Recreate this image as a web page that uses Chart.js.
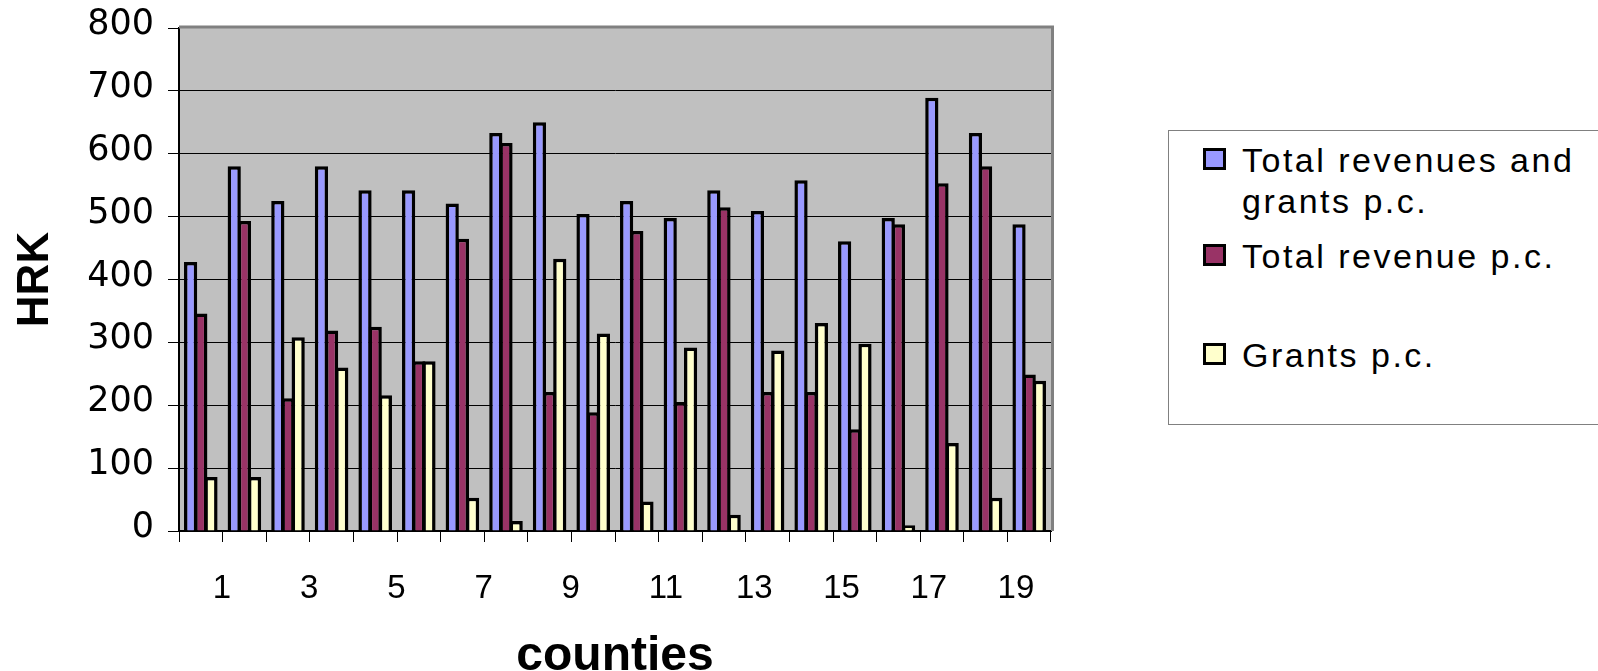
<!DOCTYPE html>
<html>
<head>
<meta charset="utf-8">
<script src="https://cdn.jsdelivr.net/npm/chart.js@4.4.1/dist/chart.umd.min.js"></script>
<style>
  html, body { margin: 0; padding: 0; background: #fff; overflow: hidden; width: 1598px; height: 671px; }
  #wrap { position: relative; width: 1598px; height: 671px; }
  #chart { position: absolute; left: 0; top: 0; }
  #legend {
    position: absolute; left: 1168px; top: 130px; width: 470px; height: 295px;
    box-sizing: border-box; border: 1px solid #808080; background: #fff;
    font-family: "Liberation Sans", Arial, sans-serif; font-size: 34px; line-height: 41px;
    letter-spacing: 2.5px; color: #000;
  }
  #legend .item { position: relative; padding-left: 73px; width: 345px; }
  #legend .swatch {
    position: absolute; left: 34px; top: 8px; width: 23px; height: 22px;
    box-sizing: border-box; border: 3px solid #000;
  }
</style>
</head>
<body>
<div id="wrap">
  <canvas id="chart" width="1598" height="671"></canvas>
  <div id="legend"></div>
</div>
<script>
// Counties 1..20
const categories = ['1','2','3','4','5','6','7','8','9','10','11','12','13','14','15','16','17','18','19','20'];
// Every other county is labelled on the axis
const xTickLabels = ['1','3','5','7','9','11','13','15','17','19'];
const yMin = 0;
const yMax = 800;
const yStep = 100;

const seriesNames = ['Total revenues and grants p.c.', 'Total revenue p.c.', 'Grants p.c.'];

// HRK per capita
const totalRevenuesAndGrants = [428, 580, 525, 580, 542, 542, 521, 633, 650, 504, 525, 498, 542, 509, 558, 461, 498, 689, 633, 488];
const totalRevenue           = [346, 493, 211, 319, 325, 270, 465, 617, 221, 189, 477, 205, 515, 221, 221, 162, 488, 553, 580, 249];
const grants                 = [ 86,  86, 308, 260, 216, 270,  53,  16, 433, 314,  47, 292,  26, 287, 331, 298,   9, 140,  53, 239];

// Grey plot area behind the grid
const plotBackground = {
  id: 'plotBackground',
  beforeDraw(chart) {
    const { ctx, chartArea: a } = chart;
    ctx.save();
    ctx.fillStyle = '#C0C0C0';
    ctx.fillRect(a.left, a.top, a.right - a.left, a.bottom - a.top);
    ctx.restore();
  }
};

// Grey frame on the top and right of the plot area
const plotFrame = {
  id: 'plotFrame',
  beforeDatasetsDraw(chart) {
    const { ctx, chartArea: a } = chart;
    ctx.save();
    ctx.strokeStyle = '#808080';
    ctx.lineWidth = 3;
    ctx.beginPath();
    ctx.moveTo(a.left, a.top - 1);
    ctx.lineTo(a.right + 1.5, a.top - 1);
    ctx.lineTo(a.right + 1.5, a.bottom);
    ctx.stroke();
    ctx.restore();
  }
};

// Boxed legend on the right, built from the datasets
const boxLegend = {
  id: 'boxLegend',
  afterInit(chart) {
    const box = document.getElementById('legend');
    const gaps = [9, 14, 58];
    box.innerHTML = '';
    chart.data.datasets.forEach((ds, i) => {
      const item = document.createElement('div');
      item.className = 'item';
      item.style.marginTop = gaps[i] + 'px';
      const sw = document.createElement('span');
      sw.className = 'swatch';
      sw.style.background = ds.backgroundColor;
      const tx = document.createElement('span');
      tx.textContent = ds.label;
      item.appendChild(sw);
      item.appendChild(tx);
      box.appendChild(item);
    });
  }
};

const barStyle = { borderColor: '#000000', borderWidth: 3.5, categoryPercentage: 0.70, barPercentage: 1.3 };

new Chart(document.getElementById('chart'), {
  type: 'bar',
  data: {
    labels: categories,
    datasets: [
      Object.assign({ label: seriesNames[0], data: totalRevenuesAndGrants, backgroundColor: '#9999FF' }, barStyle),
      Object.assign({ label: seriesNames[1], data: totalRevenue, backgroundColor: '#993366' }, barStyle),
      Object.assign({ label: seriesNames[2], data: grants, backgroundColor: '#FFFFCC' }, barStyle)
    ]
  },
  options: {
    responsive: false,
    animation: false,
    events: [],
    layout: { padding: { top: 28, right: 547, left: 0, bottom: 0 } },
    plugins: {
      legend: { display: false },
      tooltip: { enabled: false }
    },
    scales: {
      x: {
        afterFit(scale) { scale.height = 140; },
        grid: { display: true, drawOnChartArea: false, drawTicks: true, tickLength: 11, color: '#000', lineWidth: 1, offset: true },
        border: { display: true, color: '#000', width: 2 },
        ticks: {
          autoSkip: false, maxRotation: 0, minRotation: 0,
          align: 'start', labelOffset: 12, padding: 27, color: '#000',
          font: { family: '"Liberation Sans", Arial, sans-serif', size: 33 },
          callback: (v, i) => (i % 2 === 0 ? xTickLabels[i / 2] : '')
        },
        title: {
          display: true, text: 'counties', color: '#000',
          font: { family: '"Liberation Sans", Arial, sans-serif', size: 48, weight: 'bold', lineHeight: 0.6 },
          padding: { top: 0, bottom: 0 }
        }
      },
      y: {
        min: yMin, max: yMax,
        afterFit(scale) { scale.width = 179; },
        grid: {
          drawOnChartArea: true, drawTicks: true, tickLength: 11, lineWidth: 1,
          color: (c) => (c.tick && c.tick.value === yMax ? 'rgba(0,0,0,0)' : '#000'),
          tickColor: '#000'
        },
        border: { display: true, color: '#000', width: 2 },
        ticks: {
          stepSize: yStep, padding: 14, labelOffset: -3, color: '#000',
          font: { family: '"DejaVu Sans", Verdana, sans-serif', size: 35, lineHeight: 0.6 }
        },
        title: {
          display: true, text: 'HRK', color: '#000',
          font: { family: '"Liberation Sans", Arial, sans-serif', size: 44, weight: 'bold', lineHeight: 1.2 },
          padding: { top: 9, bottom: 0 }
        }
      }
    }
  },
  plugins: [plotBackground, plotFrame, boxLegend]
});
</script>
</body>
</html>
